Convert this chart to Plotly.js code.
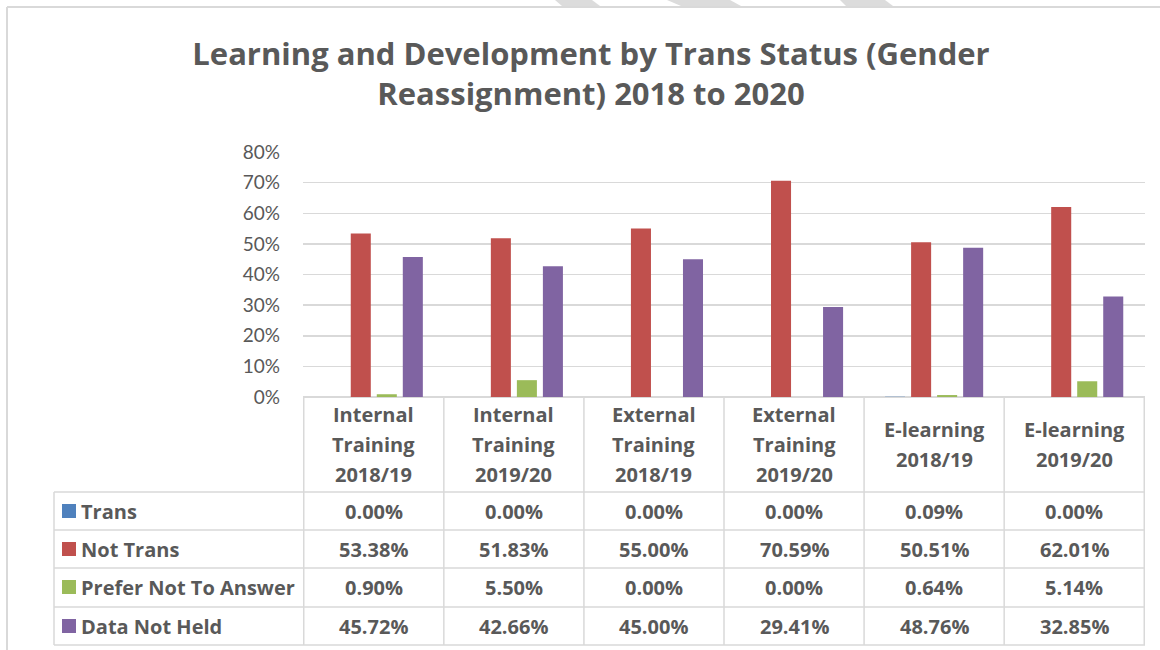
<!DOCTYPE html>
<html>
<head>
<meta charset="utf-8">
<script src="https://cdn.plot.ly/plotly-3.0.1.min.js"></script>
<style>html,body{margin:0;padding:0;background:#fff;}#chart{width:1160px;height:650px;}</style>
</head>
<body>
<div id="chart"></div>
<script>
// ---- data ----
const categories = ["Internal<br>Training<br>2018/19", "Internal<br>Training<br>2019/20", "External<br>Training<br>2018/19", "External<br>Training<br>2019/20", "E-learning<br>2018/19", "E-learning<br>2019/20"];
const seriesNames = ["Trans", "Not Trans", "Prefer Not To Answer", "Data Not Held"];
const trans = [0.0000, 0.0000, 0.0000, 0.0000, 0.0009, 0.0000];
const notTrans = [0.5338, 0.5183, 0.5500, 0.7059, 0.5051, 0.6201];
const preferNot = [0.0090, 0.0550, 0.0000, 0.0000, 0.0064, 0.0514];
const dataNotHeld = [0.4572, 0.4266, 0.4500, 0.2941, 0.4876, 0.3285];
const yTickVals = [0, 0.1, 0.2, 0.3, 0.4, 0.5, 0.6, 0.7, 0.8];
const titleText = "Learning and Development by Trans Status (Gender<br>Reassignment) 2018 to 2020";

// ---- style ----
const colors = ["#4F81BD", "#C0504D", "#9BBB59", "#8064A2"];
const allSeries = [trans, notTrans, preferNot, dataNotHeld];
const FONT = "'Open Sans', Lato, sans-serif";
const TICKFONT = "Lato, 'Open Sans', sans-serif";
const TXT = "#595959";
const GRID = "#D9D9D9";
const TBL = 20;

const W = 1160, H = 650;
const L = 303, R = 1145, T = 152, B = 397;
const px2x = px => (px - L) / (R - L);
const py2y = py => (B - py) / (B - T);

const traces = allSeries.map((vals, i) => ({
  type: "bar",
  name: seriesNames[i],
  x: categories,
  y: vals,
  marker: {color: colors[i], line: {width: 0}},
  hoverinfo: "skip"
}));

const shapes = [];
const annotations = [];
const line = (x0, y0, x1, y1, xref) => shapes.push({
  type: "line", xref: xref || "paper", yref: "paper",
  x0: x0, y0: y0, x1: x1, y1: y1,
  line: {color: GRID, width: 1.5}
});

// table row boundaries (pixel)
const rowLines = [492, 530, 568, 607, 645];
const rowCenters = [511, 549, 587, 626];
rowLines.forEach(py => line(px2x(54), py2y(py), 1, py2y(py)));
for (let k = 0; k <= categories.length; k++) {
  line(k - 0.5, py2y(B), k - 0.5, py2y(645), "x");
}
line(px2x(54), py2y(492), px2x(54), py2y(645));

// header labels (split lines)
categories.forEach((c, ci) => {
  const parts = c.split("<br>");
  const n = parts.length;
  const center = (B + 492) / 2;
  parts.forEach((p, li) => {
    const py = center + (li - (n - 1) / 2) * 30;
    annotations.push({
      xref: "x", yref: "paper", x: c, y: py2y(py),
      text: "<b>" + p + "</b>", showarrow: false,
      xanchor: "center", yanchor: "middle",
      font: {family: FONT, size: TBL, color: TXT}
    });
  });
});

// table values & legend keys
allSeries.forEach((vals, si) => {
  const cy = rowCenters[si];
  shapes.push({
    type: "rect", xref: "paper", yref: "paper",
    x0: px2x(62), x1: px2x(76), y0: py2y(cy - 7), y1: py2y(cy + 7),
    fillcolor: colors[si], line: {width: 0}
  });
  annotations.push({
    xref: "paper", yref: "paper", x: px2x(79), y: py2y(cy),
    text: "<b>" + seriesNames[si] + "</b>", showarrow: false,
    xanchor: "left", yanchor: "middle",
    font: {family: FONT, size: TBL, color: TXT}
  });
  vals.forEach((v, ci) => {
    annotations.push({
      xref: "x", yref: "paper", x: categories[ci], y: py2y(cy),
      text: "<b>" + (v * 100).toFixed(2) + "%</b>", showarrow: false,
      xanchor: "center", yanchor: "middle",
      font: {family: FONT, size: TBL, color: TXT}
    });
  });
});

// chart frame (outer border)
shapes.push({type: "line", xref: "paper", yref: "paper",
  x0: px2x(7), y0: py2y(7), x1: px2x(1160), y1: py2y(7),
  line: {color: GRID, width: 2}});
shapes.push({type: "line", xref: "paper", yref: "paper",
  x0: px2x(7), y0: py2y(7), x1: px2x(7), y1: py2y(650),
  line: {color: GRID, width: 2}});
// faint watermark stripes above the frame
[[555, 592, 562, 600], [667, 730, 681, 741], [840, 885, 846, 893]].forEach(s => {
  shapes.push({type: "path", xref: "paper", yref: "paper",
    path: "M" + px2x(s[0]) + "," + py2y(0) + " L" + px2x(s[1]) + "," + py2y(0) +
          " L" + px2x(s[3]) + "," + py2y(6) + " L" + px2x(s[2]) + "," + py2y(6) + " Z",
    fillcolor: "#DCDCDC", line: {width: 0}});
});

const layout = {
  width: W, height: H,
  margin: {l: L, r: W - R, t: T, b: H - B, pad: 0},
  paper_bgcolor: "#FFFFFF", plot_bgcolor: "#FFFFFF",
  showlegend: false,
  barmode: "group",
  bargap: 0.257,
  bargroupgap: 0.23,
  title: {
    text: "<b>" + titleText + "</b>",
    font: {family: FONT, size: 31, color: TXT},
    x: 591 / W, xanchor: "center",
    y: 1 - 65 / H, yanchor: "top", yref: "container"
  },
  xaxis: {
    showticklabels: false, ticks: "",
    showgrid: false, zeroline: false,
    showline: false, fixedrange: true
  },
  yaxis: {
    range: [0, 0.8], tickvals: yTickVals, tickformat: ".0%",
    tickfont: {family: TICKFONT, size: 19, color: TXT},
    showgrid: true, gridcolor: GRID, gridwidth: 1.5,
    zeroline: true, zerolinecolor: GRID, zerolinewidth: 1.5,
    showline: false, ticks: "", ticklabelstandoff: 22,
    fixedrange: true
  },
  shapes: shapes,
  annotations: annotations
};

Plotly.newPlot("chart", traces, layout, {displayModeBar: false, staticPlot: true});
</script>
</body>
</html>
